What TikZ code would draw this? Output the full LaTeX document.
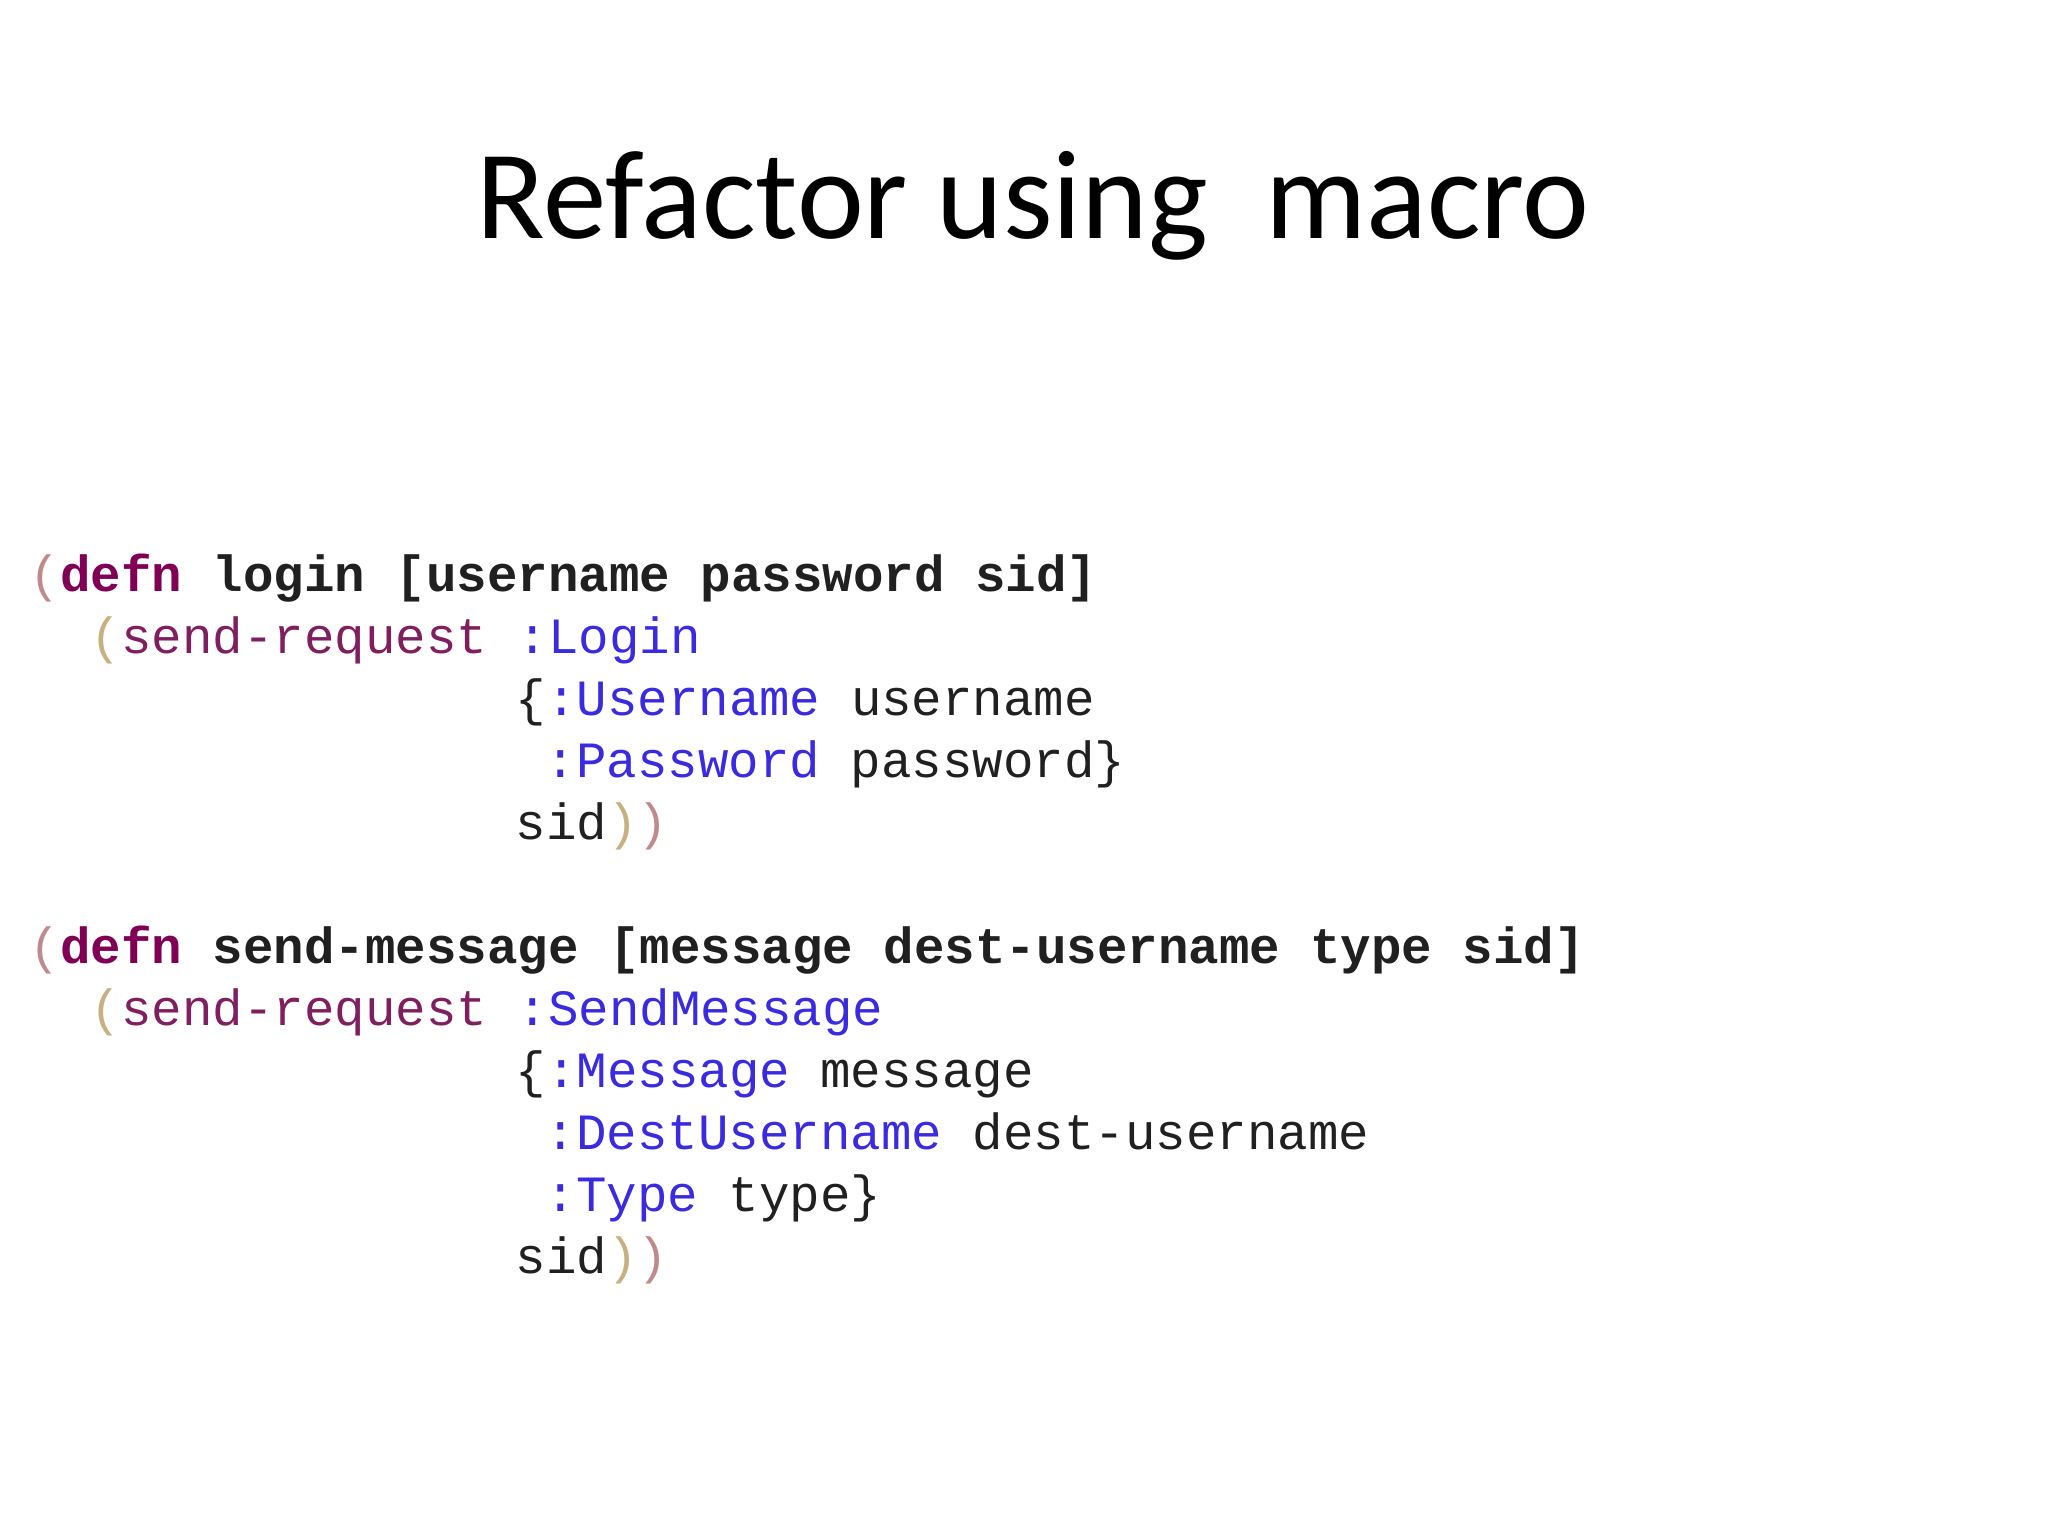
\documentclass[tikz,border=0pt]{standalone}
\usepackage{fontspec}
\setmainfont{Carlito}
\newfontfamily\codefont{Liberation Mono}
\definecolor{kwd}{HTML}{7F0055}
\definecolor{pA}{HTML}{C08A8A}
\definecolor{pB}{HTML}{C8B080}
\definecolor{fnc}{HTML}{7F1F5F}
\definecolor{kw}{HTML}{3A2AE0}
\definecolor{txt}{HTML}{202020}
\tikzset{code/.style={anchor=base west,inner sep=0pt,font=\codefont\fontsize{10.95pt}{12pt}\selectfont,text=txt},
title/.style={anchor=base,inner sep=0pt,font=\fontsize{27.3pt}{32pt}\selectfont}}
\newcommand{\kwc}[1]{\textcolor{kw}{#1}}
\begin{document}
\begin{tikzpicture}[x=0.01cm,y=-0.01cm]
\useasboundingbox[fill=white] (0,0) rectangle (1552,1164);
\node[title] (t) at (783,181) {Refactor using~~macro};
\node[code] (a1) at (22,448) {\textcolor{pA}{(}\textbf{\textcolor{kwd}{defn}~login~[username~password~sid]}};
\node[code] (a2) at (68,495) {\textcolor{pB}{(}\textcolor{fnc}{send-request}~\kwc{:Login}};
\node[code] (a3) at (390,542) {\{\kwc{:Username}~username};
\node[code] (a4) at (413,589) {\kwc{:Password}~password\}};
\node[code] (a5) at (390,636) {sid\textcolor{pB}{)}\textcolor{pA}{)}};
\node[code] (b1) at (22,730) {\textcolor{pA}{(}\textbf{\textcolor{kwd}{defn}~send-message~[message~dest-username~type~sid]}};
\node[code] (b2) at (68,777) {\textcolor{pB}{(}\textcolor{fnc}{send-request}~\kwc{:SendMessage}};
\node[code] (b3) at (390,824) {\{\kwc{:Message}~message};
\node[code] (b4) at (413,871) {\kwc{:DestUsername}~dest-username};
\node[code] (b5) at (413,918) {\kwc{:Type}~type\}};
\node[code] (b6) at (390,965) {sid\textcolor{pB}{)}\textcolor{pA}{)}};
\end{tikzpicture}
\end{document}
